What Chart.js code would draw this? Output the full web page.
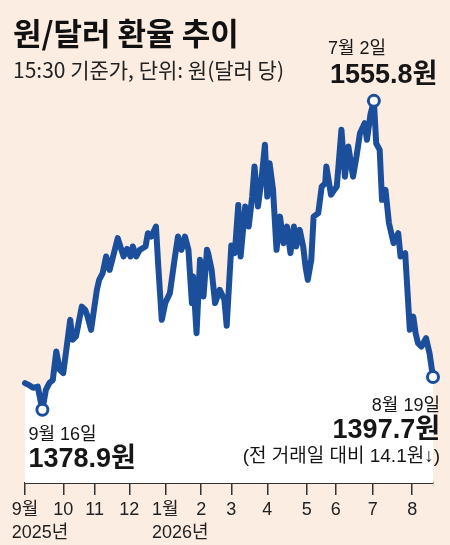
<!DOCTYPE html>
<html><head><meta charset="utf-8">
<script src="https://cdn.jsdelivr.net/npm/chart.js@4.4.1/dist/chart.umd.min.js"></script>
<style>
html,body{margin:0;padding:0;background:#fbede2;}
#wrap{position:relative;width:450px;height:545px;}
</style></head><body>
<div id="wrap"><canvas id="c"></canvas></div>
<script>
const titleText = '원/달러 환율 추이';
const subtitleText = '15:30 기준가, 단위: 원(달러 당)';

// x position (trading-day axis units, 9/1 = 0) and closing rate (원)
const days = [0,3,7,11,15,18,21,24,27,30,33,36,39,41,44,49,52,54,57,62,64,67,70,73,76,80,85,88,91,93,96,99,104,106,109,113,115,118,121,125,129,132,135,138,141,144,145,148,151,154,157,158,161,164,168,172,174,178,181,184,186,190,193,196,198,201,204,207,209,211,214,217,220,223,226,229,232,234,237,240,242,244,247,249,253,256,259,260,264,267,269,273,276,279,283,286,289,293,295,298,301,303,306,308,311,314,318,322,324,328,332,335,337,339,342,346,349,352];
const rates = [1394.2,1393.2,1391.5,1392.2,1378.9,1390.3,1394.2,1396.0,1412.3,1401.8,1399.9,1415.1,1430.4,1419.0,1420.9,1438.0,1436.1,1432.3,1424.7,1447.6,1453.3,1457.1,1466.7,1459.0,1466.7,1477.2,1466.7,1471.0,1466.7,1472.4,1466.7,1470.5,1472.4,1480.0,1478.1,1483.8,1461.0,1430.4,1440.0,1445.7,1464.8,1478.1,1470.5,1478.1,1470.5,1440.0,1455.2,1422.8,1464.8,1443.8,1470.5,1468.6,1459.0,1440.0,1447.6,1441.9,1427.0,1473.0,1468.6,1496.2,1466.7,1495.3,1483.8,1501.0,1518.2,1495.3,1510.6,1530.6,1501.0,1520.1,1504.8,1470.5,1489.5,1474.3,1483.8,1468.6,1483.8,1472.4,1481.9,1472.4,1461.0,1453.3,1464.8,1489.5,1491.5,1506.7,1508.6,1518.2,1502.0,1505.0,1506.7,1539.2,1512.4,1529.6,1512.4,1523.9,1537.3,1543.0,1533.5,1547.8,1555.8,1531.5,1527.7,1499.1,1504.8,1485.8,1474.3,1480.0,1466.7,1468.6,1424.7,1432.3,1422.8,1417.1,1415.1,1419.9,1411.3,1397.7];

const tickPositions = [0,33,60,90,121,152,178,209,243,268,300,334];
const tickLabels = ['9월','10','11','12','1월','2','3','4','5','6','7','8'];
const yearLabels = ['2025년','','','','2026년','','','','','','',''];

const markDays = [15,301,352];
const markDates = ['9월 16일','7월 2일','8월 19일'];
const markValues = ['1378.9원','1555.8원','1397.7원'];
const changeNote = '(전 거래일 대비 14.1원↓)';

const BLUE = '#1b4f9c';
const INK = '#161616';
const markIdx = markDays.map(d => days.indexOf(d));
const points = days.map((d, i) => ({x: d, y: rates[i]}));

const annot = {
  id: 'annot',
  afterDatasetsDraw(chart) {
    const ctx = chart.ctx;
    const meta = chart.getDatasetMeta(0);
    const p = markIdx.map(i => meta.data[i]);
    const reg = '18px "Liberation Sans", "Noto Sans CJK KR"';
    const bold = 'bold 27px "Liberation Sans", "Noto Sans CJK KR"';
    ctx.save();
    ctx.fillStyle = INK;
    ctx.textBaseline = 'middle';
    // minimum (left)
    ctx.textAlign = 'left';
    ctx.font = reg;
    ctx.fillText(markDates[0], p[0].x - 14, p[0].y + 25);
    ctx.font = bold;
    ctx.fillText(markValues[0], p[0].x - 14, p[0].y + 50);
    // peak
    ctx.font = reg;
    ctx.fillText(markDates[1], p[1].x - 46, p[1].y - 52);
    ctx.font = bold;
    ctx.fillText(markValues[1], p[1].x - 44, p[1].y - 25);
    // latest (right)
    ctx.textAlign = 'right';
    ctx.font = reg;
    ctx.fillText(markDates[2], p[2].x + 7, p[2].y + 29);
    ctx.font = bold;
    ctx.fillText(markValues[2], p[2].x + 7, p[2].y + 54);
    ctx.font = '19px "Liberation Sans", "Noto Sans CJK KR"';
    ctx.fillText(changeNote, p[2].x + 7, p[2].y + 80);
    // year labels under month ticks
    const xs = chart.scales.x;
    ctx.textAlign = 'left';
    ctx.fillStyle = '#222';
    ctx.font = '18px "Liberation Sans", "Noto Sans CJK KR"';
    yearLabels.forEach((yl, i) => {
      if (!yl) return;
      const w = ctx.measureText(tickLabels[i]).width;
      const x = xs.getPixelForValue(tickPositions[i]) - w / 2;
      ctx.fillText(yl, x, 533);
    });
    ctx.restore();
  }
};

new Chart(document.getElementById('c'), {
  type: 'line',
  data: {
    datasets: [{
      data: points,
      borderColor: BLUE,
      borderWidth: 6,
      borderJoinStyle: 'round',
      borderCapStyle: 'round',
      tension: 0,
      fill: 'start',
      backgroundColor: '#ffffff',
      clip: false,
      pointRadius: c => markIdx.includes(c.dataIndex) ? 5.5 : 0,
      pointHoverRadius: 0,
      pointBackgroundColor: '#ffffff',
      pointBorderColor: BLUE,
      pointBorderWidth: 3
    }]
  },
  options: {
    responsive: true,
    maintainAspectRatio: false,
    animation: false,
    layout: {padding: {left: 13, right: 17, top: 0, bottom: 0}},
    plugins: {
      legend: {display: false},
      tooltip: {enabled: false},
      title: {
        display: true, text: titleText, align: 'start', color: '#111',
        font: {family: '"Noto Sans CJK KR"', size: 31, weight: 'bold', lineHeight: 1.2},
        padding: {top: 14.4, bottom: 0}
      },
      subtitle: {
        display: true, text: subtitleText, align: 'start', color: '#222',
        font: {family: '"Noto Sans CJK KR"', size: 21, weight: 'normal', lineHeight: 1.2},
        padding: {top: 5.8, bottom: 7.4}
      }
    },
    scales: {
      x: {
        type: 'linear', min: 0, max: 352,
        afterBuildTicks: s => { s.ticks = tickPositions.map(v => ({value: v})); },
        afterFit: s => { s.height = 62; },
        ticks: {
          autoSkip: false, maxRotation: 0, padding: 4, color: '#222',
          font: {family: '"Liberation Sans", "Noto Sans CJK KR"', size: 18, lineHeight: 1.2},
          callback: (v, i) => tickLabels[i]
        },
        grid: {drawOnChartArea: false, drawTicks: true, tickLength: 12, color: '#333', lineWidth: 1.5},
        border: {display: true, color: '#333', width: 2}
      },
      y: {
        min: 1337, max: 1562,
        afterFit: s => { s.width = 12; },
        ticks: {display: false},
        grid: {display: false},
        border: {display: false}
      }
    }
  },
  plugins: [annot]
});
</script>
</body></html>
